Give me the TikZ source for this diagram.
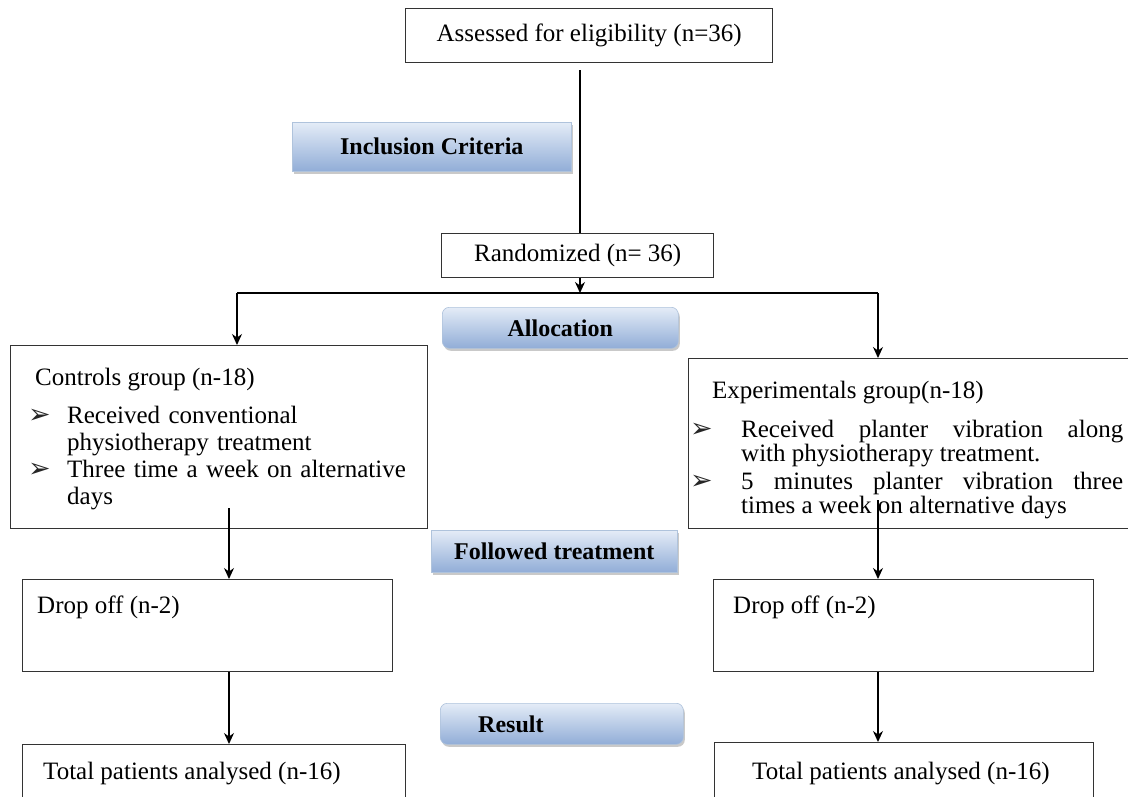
\documentclass[tikz,border=0pt]{standalone}
\usepackage{fontspec}
\setmainfont{Liberation Serif}
\newfontfamily\dejavu{DejaVu Sans}
\usetikzlibrary{arrows.meta,shadows,calc}
\newcommand{\arrowbul}{{\dejavu\fontsize{27}{27}\selectfont ➢}}
\newcommand{\topstrut}{\rule{0pt}{20pt}}
\begin{document}
\begin{tikzpicture}[x=1pt,y=-1pt,
  box/.style={draw=black!80, line width=1.4pt, anchor=north west, inner sep=0pt,
    font=\fontsize{25}{27}\selectfont},
  bluebox/.style={draw={rgb,255:red,175;green,195;blue,220}, line width=0.6pt,
    anchor=north west, inner sep=0pt,
    top color={rgb,255:red,228;green,236;blue,247},
    bottom color={rgb,255:red,145;green,173;blue,215},
    drop shadow={shadow xshift=1.5pt, shadow yshift=-2.5pt, opacity=0.35, fill=black!60},
    font=\fontsize{24}{26}\selectfont\bfseries},
  blbl/.style={inner sep=0pt, font=\fontsize{24}{26}\selectfont\bfseries},
  txt/.style={inner sep=0pt, font=\fontsize{25}{27}\selectfont},
  bul/.style={inner sep=0pt, anchor=base west, text=black!85},
  para/.style={inner sep=0pt, anchor=north west},
  conn/.style={line width=1.4pt, black},
  arr/.style={conn, -{Stealth[length=11pt,width=10pt]}}]
\fill[white] (0,0) rectangle (1128,796);
\useasboundingbox (0,0) rectangle (1128,796);

% boxes
\node[box, minimum width=367pt, minimum height=54pt] (assess) at (405,8) {Assessed for eligibility (n=36)};
\node[bluebox, minimum width=279pt, minimum height=49pt] (incl) at (292,122) {Inclusion Criteria};
\node[box, minimum width=272pt, minimum height=44pt] (rand) at (441,233) {Randomized (n= 36)};
\node[bluebox, rounded corners=7pt, minimum width=236pt, minimum height=41pt] (alloc) at (442,307) {Allocation};
\node[box, minimum width=417pt, minimum height=183pt] (ctrl) at (10,345) {};
\node[box, minimum width=450pt, minimum height=170pt] (exp) at (688,358) {};
\node[bluebox, minimum width=246pt, minimum height=42pt] (follow) at (431,530) {Followed treatment};
\node[box, minimum width=370pt, minimum height=92pt] (dropl) at (22,579) {};
\node[box, minimum width=380pt, minimum height=92pt] (dropr) at (713,579) {};
\node[bluebox, rounded corners=7pt, minimum width=243pt, minimum height=41pt] (result) at (440,703) {};
\node[blbl, anchor=west] (resultt) at (478,724) {Result};
\node[box, minimum width=383pt, minimum height=70pt] (totl) at (22,744) {};
\node[box, minimum width=379pt, minimum height=70pt] (totr) at (714,742) {};

% controls texts
\node[txt, anchor=base west] (ctrlh) at (35,385) {Controls group (n-18)};
\node[bul] (cb1) at (28,423) {\arrowbul};
\node[txt, para, text width=350pt, align=left, font=\fontsize{25}{27}\selectfont]
  (ci1) at (67,403) {\topstrut Received conventional\\physiotherapy treatment};
\node[bul] (cb2) at (28,477) {\arrowbul};
\node[txt, para, text width=350pt, align=left, font=\fontsize{25}{27}\selectfont]
  (ci2) at (67,457) {\topstrut Three time a week on alternative\\days};

% experimental texts
\node[txt, anchor=base west] (exph) at (712,398) {Experimentals group(n-18)};
\node[bul] (eb1) at (690,437) {\arrowbul};
\node[txt, para, text width=382pt, align=justify, font=\fontsize{25}{24}\selectfont]
  (ei1) at (741,417) {\topstrut Received planter vibration along\linebreak with physiotherapy treatment.};
\node[bul] (eb2) at (690,489) {\arrowbul};
\node[txt, para, text width=382pt, align=justify, font=\fontsize{25}{24}\selectfont]
  (ei2) at (741,469) {\topstrut 5 minutes planter vibration three\linebreak times a week on alternative days};

% other texts
\node[txt, anchor=base west] (droplt) at (37,613) {Drop off (n-2)};
\node[txt, anchor=base west] (droprt) at (733,613) {Drop off (n-2)};
\node[txt, anchor=base west] (totlt) at (43,779) {Total patients analysed (n-16)};
\node[txt, anchor=base west] (totrt) at (752,779) {Total patients analysed (n-16)};

% connectors
\coordinate (a1) at (580,70);
\draw[conn] (a1) -- (a1 |- rand.north);
\coordinate (split) at (580,293);
\draw[arr] (split |- rand.south) -- (split);
\coordinate (sl) at (237,293);
\coordinate (sr) at (878,293);
\draw[conn] (sl) -- (sr);
\draw[arr] (sl) -- (sl |- ctrl.north);
\draw[arr] (sr) -- (sr |- exp.north);
\coordinate (cl) at (229,508);
\coordinate (cr) at (878,500);
\draw[arr] (cl) -- (cl |- dropl.north);
\draw[arr] (cr) -- (cr |- dropr.north);
\draw[arr] (cl |- dropl.south) -- (cl |- totl.north);
\draw[arr] (cr |- dropr.south) -- (cr |- totr.north);
\end{tikzpicture}
\end{document}
